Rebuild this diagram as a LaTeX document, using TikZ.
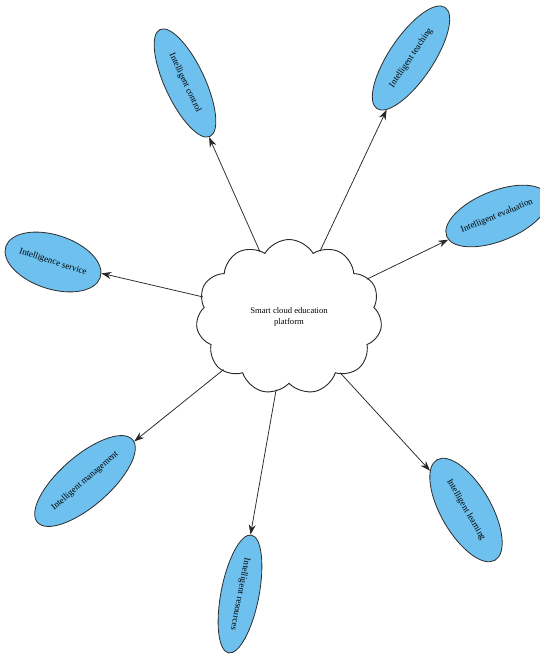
\documentclass[tikz,border=0pt]{standalone}
\usepackage{fontspec}
\setmainfont{Liberation Serif}
\usetikzlibrary{shapes.geometric,shapes.symbols,arrows.meta}
\definecolor{bub}{RGB}{110,192,238}
\definecolor{edge}{RGB}{45,45,45}
\begin{document}
\begin{tikzpicture}[x=1pt,y=1pt,
  bubble/.style={ellipse, draw=edge, line width=0.8pt, fill=bub, inner sep=0pt,
    font=\fontsize{9}{10}\selectfont},
  link/.style={line width=0.75pt, draw=black!85, -{Stealth[length=10pt,width=7pt]}, shorten <=-2pt}]
\useasboundingbox (0,0) rectangle (539,-660);
\node[cloud, draw=black!85, line width=0.9pt, fill=white, cloud puffs=11, cloud puff arc=120,
  aspect=1.2, minimum width=186pt, minimum height=155pt, inner sep=0pt, align=center,
  font=\fontsize{8.6}{11.5}\selectfont] (cloud) at (289,-317) {Smart cloud education\\platform};
\node[bubble, minimum width=118pt, minimum height=40pt, rotate=-65] (ctrl) at (185,-83) {Intelligent control};
\node[bubble, minimum width=122pt, minimum height=44pt, rotate=56] (teach) at (411,-58) {Intelligent teaching};
\node[bubble, minimum width=86pt, minimum height=50pt, rotate=22] (eval) at (497,-216) {Intelligent evaluation};
\node[bubble, minimum width=96pt, minimum height=54pt, rotate=-18] (serv) at (53,-262) {Intelligence service};
\node[bubble, minimum width=126pt, minimum height=50pt, rotate=41] (manag) at (85,-481) {Intelligent management};
\node[bubble, minimum width=116pt, minimum height=50pt, rotate=-60] (learn) at (466,-510) {Intelligent learning};
\node[bubble, minimum width=120pt, minimum height=38pt, rotate=-101] (res) at (240,-594) {Intelligent resources};
\draw[link] (cloud) -- (ctrl);
\draw[link] (cloud) -- (teach);
\draw[link] (cloud) -- (eval);
\draw[link] (cloud) -- (serv);
\draw[link] (cloud) -- (manag);
\draw[link] (cloud) -- (learn);
\draw[link] (cloud) -- (res);
\end{tikzpicture}
\end{document}
